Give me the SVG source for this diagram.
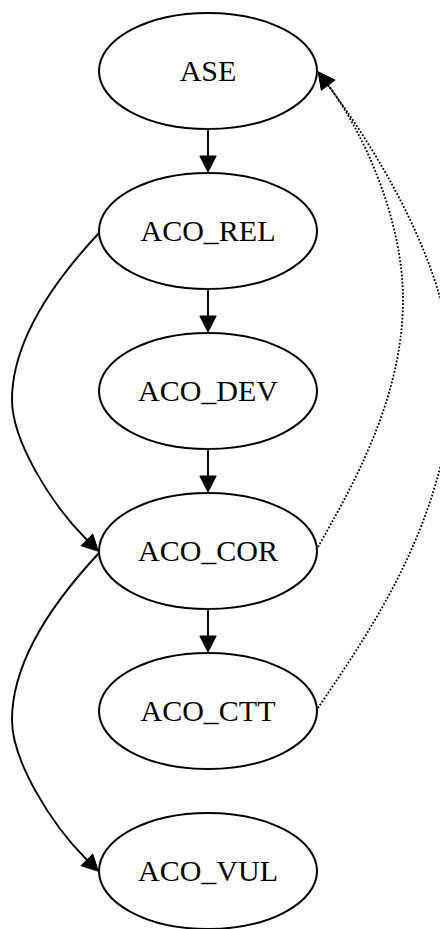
<svg xmlns="http://www.w3.org/2000/svg" width="440" height="929" viewBox="0 0 440 929">
<style>
.node ellipse{fill:none;stroke:#000;stroke-width:2}
.node text{font-family:"Liberation Serif","Times New Roman",serif;font-size:30px;text-anchor:middle;fill:#000}
.edge{fill:none;stroke:#000;stroke-width:1.9}
.dot{fill:none;stroke:#000;stroke-width:1.8;stroke-dasharray:1.8 1.8}
</style>
<defs>
<marker id="ah" markerUnits="userSpaceOnUse" markerWidth="18" markerHeight="18" viewBox="0 -9 17 18" refX="0" refY="0" orient="auto" overflow="visible">
<path d="M0,-8.2 L16,0 L0,8.2 z" fill="#000" stroke="#000" stroke-width="1"/>
</marker>
</defs>
<rect width="440" height="929" fill="#fff"/>
<g id="edges">
<path class="edge" d="M208,130 L208,156" marker-end="url(#ah)"/>
<path class="edge" d="M208,290 L208,316" marker-end="url(#ah)"/>
<path class="edge" d="M208,450 L208,476" marker-end="url(#ah)"/>
<path class="edge" d="M208,610 L208,636" marker-end="url(#ah)"/>
<path class="edge" d="M99,233 C55,280 12,340 12,400 C12,440 50,503 87,540" marker-end="url(#ah)"/>
<path class="edge" d="M99,553 C55,600 12,660 12,720 C12,760 50,823 87,860" marker-end="url(#ah)"/>
<path class="dot" d="M318,547 C350,490 403,400 403,300 C403,220 364,133 328,85" marker-end="url(#ah)"/>
<path class="dot" d="M318,708 C360,645 452,520 452,375 C452,270 373,145 328,85" marker-end="url(#ah)"/>
</g>
<g id="ASE" class="node"><ellipse cx="208" cy="71" rx="109" ry="58"/><text x="208" y="80.5">ASE</text></g>
<g id="ACO_REL" class="node"><ellipse cx="208" cy="231" rx="109" ry="58"/><text x="208" y="240.5">ACO_REL</text></g>
<g id="ACO_DEV" class="node"><ellipse cx="208" cy="391" rx="109" ry="58"/><text x="208" y="400.5">ACO_DEV</text></g>
<g id="ACO_COR" class="node"><ellipse cx="208" cy="551" rx="109" ry="58"/><text x="208" y="560.5">ACO_COR</text></g>
<g id="ACO_CTT" class="node"><ellipse cx="208" cy="711" rx="109" ry="58"/><text x="208" y="720.5">ACO_CTT</text></g>
<g id="ACO_VUL" class="node"><ellipse cx="208" cy="871" rx="109" ry="58"/><text x="208" y="880.5">ACO_VUL</text></g>
</svg>
